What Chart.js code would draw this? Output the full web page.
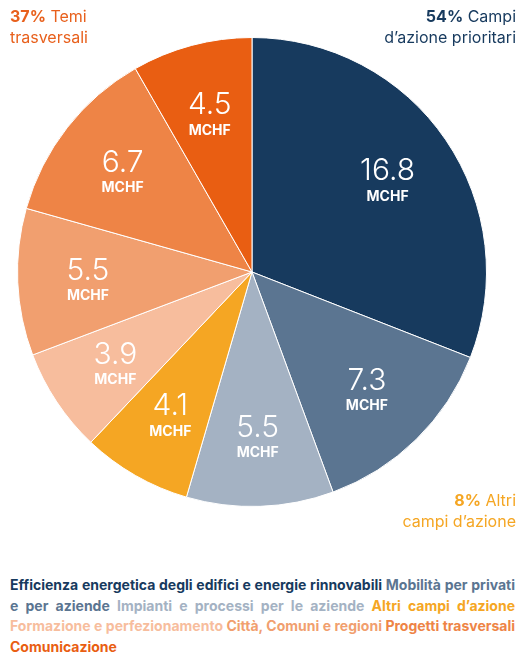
<!DOCTYPE html>
<html><head><meta charset="utf-8">
<script src="https://cdn.jsdelivr.net/npm/chart.js@4"></script>
<style>
body{margin:0;width:530px;height:658px;position:relative;background:#fff;font-family:Inter,"Noto Sans",sans-serif;overflow:hidden}
#c{position:absolute;left:0;top:0}
.corner{position:absolute;font-size:16px;line-height:21px}
#legend{position:absolute;left:10px;top:575px;width:505px;font-size:14px;font-weight:700;line-height:20.5px;text-align:justify}
</style></head><body>
<canvas id="c" width="530" height="560"></canvas>
<div class="corner" style="left:10px;top:6px;color:#e8601c"><b>37%</b> Temi<br>trasversali</div>
<div class="corner" style="right:14px;top:6px;text-align:right;color:#173a5e"><b>54%</b> Campi<br>d’azione prioritari</div>
<div class="corner" style="right:14px;top:490px;text-align:right;color:#f5a623"><b>8%</b> Altri<br>campi d’azione</div>
<div id="legend"></div>
<script>
const categories=["Efficienza energetica degli edifici e energie rinnovabili","Mobilità per privati e per aziende","Impianti e processi per le aziende","Altri campi d’azione","Formazione e perfezionamento","Città, Comuni e regioni","Progetti trasversali","Comunicazione"];
const values=[16.8,7.3,5.5,4.1,3.9,5.5,6.7,4.5];
const unit="MCHF";
const colors=["#173a5e","#5b7591","#a4b2c3","#f5a623","#f7bd9d","#f19f6f","#ee8446","#e95e12"];
const legendColors=["#173a5e","#5b7591","#a4b2c3","#f5a623","#f7bd9d","#f19f6f","#ee8446","#e95e12"];
document.getElementById('legend').innerHTML=categories.map((c,i)=>`<span style="color:${legendColors[i]}">${c}</span>`).join(' ');
const labelPlugin={id:'lbl',afterDatasetsDraw(chart){
 const ctx=chart.ctx;const meta=chart.getDatasetMeta(0);
 meta.data.forEach((arc,i)=>{
  const p=arc.getProps(['x','y','startAngle','endAngle','outerRadius']);
  const a=(p.startAngle+p.endAngle)/2, r=p.outerRadius*0.7;
  const x=p.x+Math.cos(a)*r, y=p.y+Math.sin(a)*r;
  ctx.save();ctx.fillStyle='#fff';ctx.textAlign='center';ctx.textBaseline='middle';
  ctx.font='300 30px Inter, "Noto Sans", sans-serif';
  ctx.fillText(String(values[i]),x,y-8);
  ctx.font='700 14px Inter, "Noto Sans", sans-serif';
  ctx.fillText(unit,x,y+17);
  ctx.restore();
 });
}};
new Chart(document.getElementById('c'),{type:'pie',
 data:{labels:categories,datasets:[{data:values,backgroundColor:colors,borderColor:'#fff',borderWidth:1}]},
 options:{responsive:false,animation:false,layout:{padding:{left:17,top:37,right:43,bottom:53}},
  plugins:{legend:{display:false},tooltip:{enabled:false}}},
 plugins:[labelPlugin]});
</script></body></html>
